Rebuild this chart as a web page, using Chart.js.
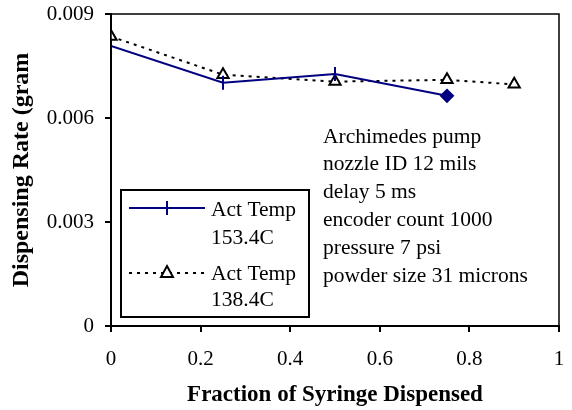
<!DOCTYPE html>
<html>
<head>
<meta charset="utf-8">
<script src="https://cdn.jsdelivr.net/npm/chart.js@4.4.1/dist/chart.umd.min.js"></script>
<style>
  html, body { margin: 0; padding: 0; background: #fff; }
  #wrap { width: 572px; height: 410px; }
</style>
</head>
<body>
<div id="wrap"><canvas id="myChart"></canvas></div>
<script>
// data
const fraction153 = [0, 0.25, 0.5, 0.75];
const rate153 = [0.00808, 0.00702, 0.00727, 0.00664];
const fraction138 = [0, 0.25, 0.5, 0.75, 0.9];
const rate138 = [0.00835, 0.00725, 0.00705, 0.0071, 0.00697];

const xTicks = [0, 0.2, 0.4, 0.6, 0.8, 1];
const yTicks = [0, 0.003, 0.006, 0.009];

const legendLabels = [['Act Temp', '153.4C'], ['Act Temp', '138.4C']];
const noteLines = ['Archimedes pump', 'nozzle ID 12 mils', 'delay 5 ms', 'encoder count 1000', 'pressure 7 psi', 'powder size 31 microns'];

const FONT = 'Liberation Serif, Times New Roman, serif';
const NAVY = '#000080';

function toPoints(xs, ys) {
    return xs.map((x, i) => ({ x: x, y: ys[i] }));
}

// last point of the blue series has a filled diamond
const bluePointStyles = rate153.map((v, i) => i === rate153.length - 1 ? 'rectRot' : 'line');
const blueRotation = rate153.map((v, i) => i === rate153.length - 1 ? 0 : 90);
const blueRadius = rate153.map((v, i) => i === rate153.length - 1 ? 6 : 7);

// box, legend and notes drawn on top
const extrasPlugin = {
    id: 'extras',
    afterDraw(chart) {
        const ctx = chart.ctx;
        const a = chart.chartArea;
        ctx.save();

        // frame of the plot
        ctx.strokeStyle = '#000';
        ctx.lineWidth = 1.5;
        ctx.strokeRect(a.left, a.top, a.right - a.left, a.bottom - a.top);

        // legend box
        ctx.lineWidth = 2;
        ctx.strokeRect(121, 190, 188, 127);

        ctx.font = '21.5px ' + FONT;
        ctx.fillStyle = '#000';
        ctx.textBaseline = 'middle';
        ctx.textAlign = 'left';

        // sample 1: navy line with vertical tick
        ctx.strokeStyle = NAVY;
        ctx.lineWidth = 2;
        ctx.beginPath();
        ctx.moveTo(129, 208);
        ctx.lineTo(205, 208);
        ctx.moveTo(167, 201);
        ctx.lineTo(167, 215);
        ctx.stroke();
        ctx.fillText(legendLabels[0][0], 211, 210);
        ctx.fillText(legendLabels[0][1], 211, 238);

        // sample 2: dotted line with open triangle
        ctx.strokeStyle = '#000';
        ctx.setLineDash([3, 5]);
        ctx.beginPath();
        ctx.moveTo(129, 273);
        ctx.lineTo(205, 273);
        ctx.stroke();
        ctx.setLineDash([]);
        ctx.beginPath();
        ctx.moveTo(167, 266);
        ctx.lineTo(173, 277);
        ctx.lineTo(161, 277);
        ctx.closePath();
        ctx.fillStyle = '#fff';
        ctx.fill();
        ctx.stroke();
        ctx.fillStyle = '#000';
        ctx.fillText(legendLabels[1][0], 211, 274);
        ctx.fillText(legendLabels[1][1], 211, 300);

        // notes
        noteLines.forEach((t, i) => {
            ctx.fillText(t, 323, 137 + i * 27.8);
        });
        ctx.restore();
    }
};

const ctx = document.getElementById('myChart').getContext('2d');

const myChart = new Chart(ctx, {
    type: 'scatter',
    data: {
        datasets: [
            {
                label: legendLabels[0].join(' '),
                data: toPoints(fraction153, rate153),
                showLine: true,
                borderColor: NAVY,
                backgroundColor: NAVY,
                borderWidth: 2,
                pointStyle: bluePointStyles,
                rotation: blueRotation,
                pointRadius: blueRadius,
                pointBorderColor: NAVY,
                pointBackgroundColor: NAVY,
                pointBorderWidth: 2
            },
            {
                label: legendLabels[1].join(' '),
                data: toPoints(fraction138, rate138),
                showLine: true,
                borderColor: '#000',
                borderWidth: 2,
                borderDash: [3, 5],
                pointStyle: 'triangle',
                pointRadius: 6.5,
                pointBorderColor: '#000',
                pointBackgroundColor: '#fff',
                pointBorderWidth: 2
            }
        ]
    },
    options: {
        responsive: true,
        maintainAspectRatio: false,
        animation: false,
        layout: {
            padding: { top: 14, right: 13, left: 0, bottom: 0 }
        },
        scales: {
            x: {
                type: 'linear',
                min: 0,
                max: 1,
                afterBuildTicks: scale => { scale.ticks = xTicks.map(v => ({ value: v })); },
                afterFit: scale => {
                    scale.height = 84;
                    scale.paddingLeft = 0;
                    scale.paddingRight = 0;
                },
                ticks: {
                    color: '#000',
                    padding: 15,
                    maxRotation: 0,
                    font: { size: 21, family: FONT },
                    callback: v => String(+v.toFixed(1))
                },
                grid: {
                    drawOnChartArea: false,
                    drawTicks: true,
                    tickLength: 6,
                    color: '#000',
                    lineWidth: 2
                },
                border: { color: '#000', width: 2 },
                title: {
                    display: true,
                    text: 'Fraction of Syringe Dispensed',
                    color: '#000',
                    font: { size: 23, weight: 'bold', family: FONT },
                    padding: { top: 0, bottom: 1 }
                }
            },
            y: {
                type: 'linear',
                min: 0,
                max: 0.009,
                afterBuildTicks: scale => { scale.ticks = yTicks.map(v => ({ value: v })); },
                afterFit: scale => {
                    scale.width = 111;
                    scale.paddingTop = 0;
                    scale.paddingBottom = 0;
                },
                ticks: {
                    color: '#000',
                    padding: 11,
                    font: { size: 21, family: FONT },
                    callback: v => v === 0 ? '0' : v.toFixed(3)
                },
                grid: {
                    drawOnChartArea: false,
                    drawTicks: true,
                    tickLength: 6,
                    color: '#000',
                    lineWidth: 2
                },
                border: { color: '#000', width: 2 },
                title: {
                    display: true,
                    text: 'Dispensing Rate (gram',
                    color: '#000',
                    font: { size: 24, weight: 'bold', family: FONT },
                    padding: { top: 7, bottom: 0 }
                }
            }
        },
        plugins: {
            legend: { display: false },
            tooltip: { enabled: false }
        }
    },
    plugins: [extrasPlugin]
});
</script>
</body>
</html>
